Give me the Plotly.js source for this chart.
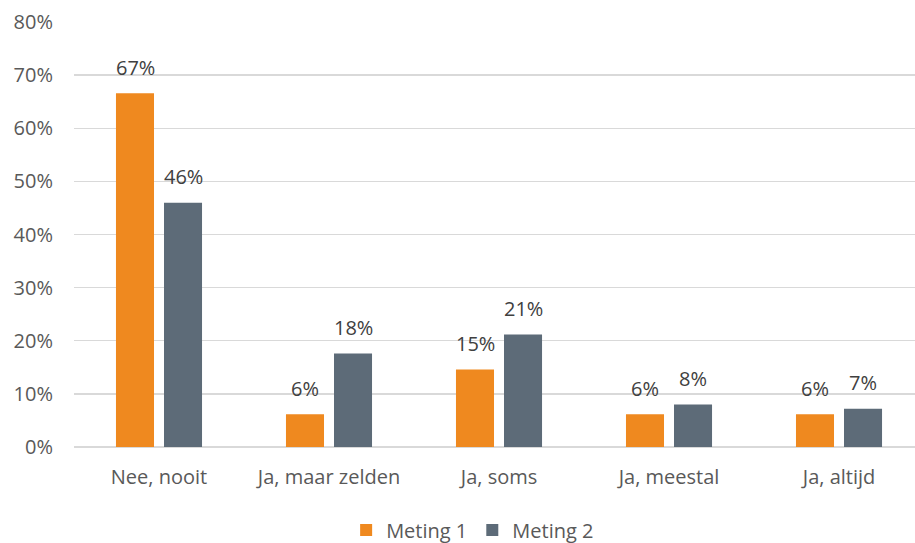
<!DOCTYPE html>
<html>
<head>
<meta charset="utf-8">
<script src="https://cdn.plot.ly/plotly-3.0.1.min.js"></script>
<style>html,body{margin:0;padding:0;background:#fff;}#chart{width:915px;height:543px;}</style>
</head>
<body>
<div id="chart"></div>
<script>
const categories = ["Nee, nooit", "Ja, maar zelden", "Ja, soms", "Ja, meestal", "Ja, altijd"];
const meting1 = [0.666, 0.0615, 0.146, 0.0615, 0.0615];
const meting2 = [0.460, 0.176, 0.212, 0.080, 0.072];
const seriesNames = ["Meting 1", "Meting 2"];
const yTickVals = [0, 0.1, 0.2, 0.3, 0.4, 0.5, 0.6, 0.7, 0.8];
const yTickText = ["0%", "10%", "20%", "30%", "40%", "50%", "60%", "70%", "80%"];

const FONT = "Open Sans, sans-serif";
const labelFont = {family: FONT, size: 20, color: "#404040"};
const colors = ["#EF891F", "#5D6B78"];

const traces = [
  {type: "bar", name: seriesNames[0], x: categories, y: meting1,
   marker: {color: colors[0]}, hoverinfo: "none"},
  {type: "bar", name: seriesNames[1], x: categories, y: meting2,
   marker: {color: colors[1]}, hoverinfo: "none"}
];

const annotations = [];
[meting1, meting2].forEach((vals, s) => {
  vals.forEach((v, i) => {
    annotations.push({
      x: categories[i], y: v, xref: "x", yref: "y",
      text: Math.round(v * 100) + "%",
      showarrow: false, xanchor: "center", yanchor: "middle",
      xshift: s === 0 ? -24 : 24, yshift: 26,
      font: labelFont
    });
  });
});

const layout = {
  width: 915, height: 543,
  margin: {l: 74, r: 0, t: 22, b: 96},
  paper_bgcolor: "#fff", plot_bgcolor: "#fff",
  barmode: "group", bargap: 0.435, bargroupgap: 0.208,
  font: {family: FONT, size: 20, color: "#595959"},
  xaxis: {type: "category", range: [-0.5, 4.447], showgrid: false, showline: false,
          zeroline: false, ticks: "", tickfont: {family: FONT, size: 20, color: "#595959"},
          ticklabelstandoff: 16, automargin: false, fixedrange: true},
  yaxis: {range: [0, 0.8], tickvals: yTickVals, ticktext: yTickText, showgrid: true,
          gridcolor: "#D9D9D9", gridwidth: 1.3, zeroline: true, zerolinecolor: "#D9D9D9",
          zerolinewidth: 1.3, showline: false, ticks: "",
          tickfont: {family: FONT, size: 20, color: "#595959"}, ticklabelstandoff: 20,
          automargin: false, fixedrange: true},
  annotations: annotations,
  showlegend: true,
  legend: {orientation: "h", xref: "paper", x: 0.474, xanchor: "center",
           yref: "container", y: 0.024, yanchor: "middle",
           font: {family: FONT, size: 20, color: "#595959"}, itemwidth: 30,
           traceorder: "normal"}
};

Plotly.newPlot("chart", traces, layout, {displayModeBar: false, staticPlot: true});
</script>
</body>
</html>
